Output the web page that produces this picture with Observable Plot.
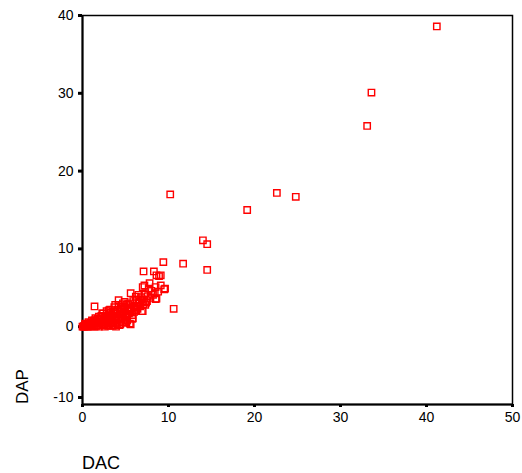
<!DOCTYPE html>
<html>
<head>
<meta charset="utf-8">
<script src="https://cdn.jsdelivr.net/npm/d3@7"></script>
<script src="https://cdn.jsdelivr.net/npm/@observablehq/plot@0.6"></script>
<style>
  html, body { margin: 0; padding: 0; background: #fff; }
  svg { display: block; }
</style>
</head>
<body>
<div id="chart"></div>
<script>
const xTicks = [0, 10, 20, 30, 40, 50];
const yTicks = [0, 10, 20, 30, 40];
const yBottomTick = [-10];
const xLabel = "DAC";
const yLabel = "DAP";

const dac = [
  41.2, 33.6, 33.1, 10.2, 22.6, 24.8, 19.15, 14.0, 14.5, 9.4, 11.7, 14.5, 8.3, 7.1, 9.1, 8.6,
  7.8, 7.2, 9.1, 9.5, 10.6, 7.0, 8.5, 5.5, 5.8, 1.4,
  8.9, 7.0, 7.7, 8.5, 9.6, 8.8, 8.6, 7.2, 6.5, 5.6, 6.2, 4.2, 4.9, 6.9, 5.85, 5.6, 4.4, 7.3,
  3.8, 3.05, 2.3, 5.4, 5.0, 3.8, 6.5, 6.0,
  0.0, 0.2, 0.4, 0.6, 0.8, 1.0, 1.2, 1.4, 1.6, 1.8, 2.0, 0.5, 0.9, 1.3, 1.7, 2.1, 2.3, 2.5,
  2.7, 2.9, 3.1, 3.3, 3.5, 3.6, 3.8, 4.0, 4.1, 4.3, 4.5, 4.6, 4.8, 5.0, 5.1, 5.3, 5.5, 5.7,
  5.9, 6.1, 6.3, 6.6, 6.8, 7.0, 7.3, 7.6, 8.0, 8.2, 2.2, 2.6, 3.0, 3.4, 3.9, 4.4, 4.9, 5.4,
  1.1, 1.5, 1.9, 2.4, 2.8, 3.2, 3.7, 4.2, 4.7, 0.3, 0.7, 1.9, 2.8, 3.6, 4.2, 4.7, 5.2, 6.0, 6.4,
  0.1, 0.3, 0.6, 1.0, 1.5, 2.0, 2.5, 3.0, 3.4, 3.9, 4.3,
  0.4, 0.7, 1.1, 1.4, 1.8, 2.2, 2.6, 3.0, 3.3, 3.7, 4.1, 4.5, 4.9, 5.3,
  0.2, 0.6, 0.9, 1.3, 1.7, 2.0, 2.4, 2.7, 3.1, 3.5, 3.9, 4.4, 4.8, 5.2, 5.6,
  1.0, 1.6, 2.2, 2.9, 3.5, 4.1, 4.6, 5.1, 5.8, 6.2, 6.7, 7.1, 7.5, 7.9, 8.4,
  0.5, 1.2, 1.8, 2.5, 3.2, 3.8, 4.5, 5.0, 5.5, 6.3, 6.9, 7.4
];
const dap = [
  38.6, 30.1, 25.8, 17.0, 17.2, 16.7, 15.0, 11.1, 10.6, 8.3, 8.1, 7.3, 7.1, 7.1, 6.6, 6.6,
  5.6, 5.3, 5.3, 4.8, 2.3, 2.0, 3.55, 0.4, 1.0, 2.6,
  6.5, 5.1, 4.9, 5.1, 4.9, 4.5, 3.6, 4.1, 4.1, 4.3, 3.85, 3.4, 3.2, 2.0, 1.1, 0.3, 0.3, 2.8,
  2.8, 2.1, 1.7, 2.35, 1.3, 1.1, 3.0, 2.6,
  0.0, 0.0, 0.1, 0.0, 0.2, 0.1, 0.3, 0.0, 0.4, 0.2, 0.6, 0.3, 0.5, 0.7, 0.9, 1.0, 0.2, 0.8,
  1.3, 0.4, 1.6, 0.9, 0.1, 1.9, 1.2, 0.5, 2.2, 1.6, 0.9, 2.5, 1.9, 1.3, 2.8, 2.1, 3.0, 2.4,
  3.3, 2.7, 3.5, 3.1, 3.8, 3.3, 4.3, 3.9, 4.6, 4.1, 1.4, 0.0, 0.7, 1.3, 1.7, 2.0, 2.4, 1.7,
  0.8, 1.1, 1.3, 1.7, 2.0, 2.2, 2.5, 2.8, 3.0, 0.4, 0.6, 0.0, 0.8, 0.6, 1.1, 1.4, 0.8, 1.9, 2.3,
  0.0, 0.2, 0.3, 0.5, 0.6, 0.9, 0.3, 0.1, 0.5, 0.0, 0.2,
  0.2, 0.4, 0.5, 0.8, 1.0, 1.2, 1.1, 1.5, 1.8, 1.9, 2.0, 2.3, 2.6, 2.9,
  0.1, 0.2, 0.4, 0.6, 0.7, 0.4, 0.6, 1.0, 1.1, 1.4, 0.8, 1.2, 1.6, 1.5, 2.0,
  0.0, 0.1, 0.5, 0.2, 0.4, 0.3, 0.6, 0.5, 1.5, 2.1, 2.6, 2.9, 3.3, 3.7, 4.3,
  0.0, 0.2, 0.6, 0.3, 1.0, 0.2, 1.7, 0.6, 2.2, 2.5, 3.5, 3.1
];

const data = dac.map((x, i) => ({ dac: x, dap: dap[i] }));

const font = "Liberation Sans, Arial, sans-serif";

const plot = Plot.plot({
  width: 522,
  height: 473,
  marginLeft: 82,
  marginRight: 10,
  marginTop: 15,
  marginBottom: 69,
  style: { fontFamily: font, fontSize: "14px", color: "#000", background: "#fff" },
  x: { domain: [0, 50] },
  y: { domain: [-10, 40] },
  marks: [
    Plot.frame({ stroke: "#000", strokeWidth: 1.5 }),
    Plot.ruleX([0], { stroke: "#000", strokeWidth: 2 }),
    Plot.ruleY([-10], { stroke: "#000", strokeWidth: 2 }),
    Plot.axisX({ ticks: xTicks, tickFormat: d => String(d), tickSize: 3, tickPadding: 5, strokeWidth: 3, label: null, fill: "#000", fontSize: 14 }),
    Plot.axisY({ ticks: yTicks, tickFormat: d => String(d), tickSize: 4, tickPadding: 5, strokeWidth: 3, label: null, fill: "#000", fontSize: 14 }),
    Plot.axisY({ ticks: yBottomTick, tickFormat: d => String(d), tickSize: 4, tickPadding: 5, strokeWidth: 3, label: null, fill: "#000", fontSize: 14, dy: -7 }),
    Plot.dot(data, { x: "dac", y: "dap", symbol: "square", r: 3.6, stroke: "#ff0000", strokeWidth: 1.4, fill: "none" })
  ]
});

const svg = d3.select(plot);
svg.append("text")
  .attr("x", 82).attr("y", 469)
  .attr("text-anchor", "start")
  .attr("font-family", font).attr("font-size", 18).attr("fill", "#000")
  .text(xLabel);
svg.append("text")
  .attr("transform", "translate(28,404) rotate(-90)")
  .attr("text-anchor", "start")
  .attr("font-family", font).attr("font-size", 17).attr("fill", "#000")
  .text(yLabel);

document.getElementById("chart").appendChild(plot);
</script>
</body>
</html>
